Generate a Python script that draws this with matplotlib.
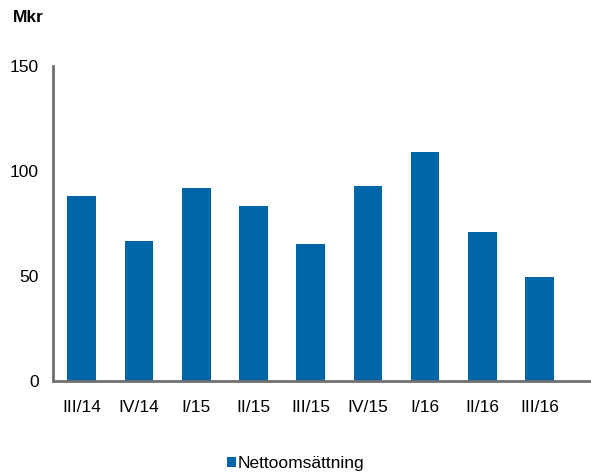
import matplotlib.pyplot as plt
import numpy as np

plt.rcParams['font.family'] = ['Liberation Sans', 'DejaVu Sans']

quarters = ["III/14", "IV/14", "I/15", "II/15", "III/15", "IV/15", "I/16", "II/16", "III/16"]
nettoomsattning = [88.1, 66.5, 91.9, 83.3, 65.4, 92.9, 109.0, 71.1, 49.5]
y_ticks = [0, 50, 100, 150]

bar_color = "#0066AA"
axis_color = "#707070"

fig = plt.figure(figsize=(5.91, 4.72), dpi=100)
ax = fig.add_axes([0.089, 0.193, 0.911, 0.667])

x = np.arange(len(quarters))
ax.bar(x, nettoomsattning, width=0.5, color=bar_color, label="Nettoomsättning")

ax.set_xlim(-0.51, 8.9)
ax.set_ylim(0, 150)
ax.set_xticks(x)
ax.set_xticklabels(quarters, fontsize=12.5)
ax.set_yticks(y_ticks)
ax.set_yticklabels([str(t) for t in y_ticks], fontsize=12.5)
ax.tick_params(axis='both', length=0)
ax.tick_params(axis='x', pad=14)
ax.tick_params(axis='y', pad=10)

for side in ["top", "right"]:
    ax.spines[side].set_visible(False)
for side in ["left", "bottom"]:
    ax.spines[side].set_color(axis_color)
    ax.spines[side].set_linewidth(2)

fig.text(0.022, 0.962, "Mkr", fontsize=12.5, fontweight="bold", va="center")

fig.legend(loc="center", bbox_to_anchor=(0.5, 0.018), frameon=False, fontsize=12.5,
           handlelength=0.5, handleheight=0.5, handletextpad=0.1)

fig.savefig("out.png", dpi=100)
